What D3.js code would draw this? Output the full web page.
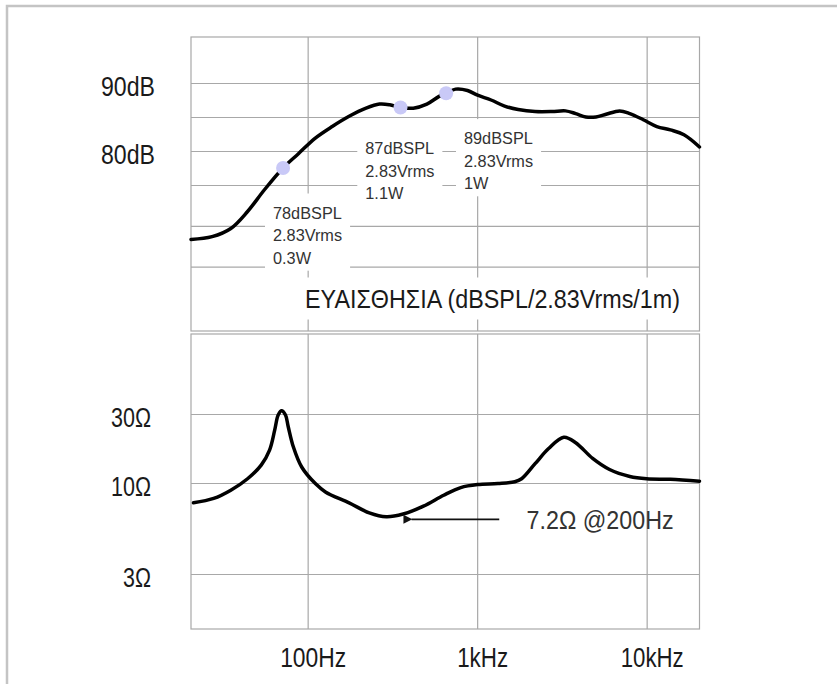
<!DOCTYPE html>
<html><head><meta charset="utf-8">
<script src="https://cdn.jsdelivr.net/npm/d3@7"></script>
<style>body{margin:0;background:#fff} svg{display:block}</style>
</head><body><svg id="c" width="837" height="684"></svg>
<script>
// ---- data ----
const splFreq = [20.5,27.3,35.2,44.2,55.6,71.6,88.2,111,139.6,175.6,221,265.5,304.8,353,420,505,593,656,746,877,1006,1208,1452,1746,2197,2765,3320,3813,4377,5025,5765,6925,7955,9550,11480,13800,16600,20500];
const splDB   = [67.0,67.4,68.6,71.1,74.3,77.5,79.6,81.9,83.6,85.1,86.3,86.9,86.8,86.4,86.3,86.9,88.0,88.5,89.1,88.9,88.2,87.5,86.6,86.1,85.8,85.8,85.9,85.5,85.0,85.0,85.4,85.9,85.5,84.6,83.6,83.1,82.4,80.6];
const markerFreq = [71.6, 353, 656];
const markerDB   = [77.5, 86.4, 88.5];
const markerText = [["78dBSPL","2.83Vrms","0.3W"],["87dBSPL","2.83Vrms","1.1W"],["89dBSPL","2.83Vrms","1W"]];
const zFreq = [21.2,27.9,35.2,44.2,53.2,59.6,63.9,67.0,70.2,74.0,76.8,82.3,92.2,111,127.3,175.6,231,291,366,482,635,800,1006,1326,1668,1829,2197,2640,3245,3814,4800,6040,7955,10000,13800,20500];
const zOhm  = [7.69,8.15,9.09,10.7,13.3,16.9,23.2,29.5,31.6,29.5,24.5,17.8,12.9,9.92,8.89,7.69,6.74,6.40,6.63,7.36,8.51,9.41,9.79,9.92,10.2,10.7,13.6,17.3,20.7,19.0,14.8,12.4,11.1,10.7,10.6,10.3];
const xTickValues = [100, 1000, 10000];
const xTickLabels = ["100Hz", "1kHz", "10kHz"];
const dbGrid = [90, 85, 80, 75, 69, 63];
const dbTickValues = [90, 80];
const dbTickLabels = ["90dB", "80dB"];
const zGrid = [30, 10, 3];
const zTickLabels = ["30Ω", "10Ω", "3Ω"];
const titleText = "ΕΥΑΙΣΘΗΣΙΑ (dBSPL/2.83Vrms/1m)";
const minText = "7.2Ω @200Hz";
const minFreq = [410, 1350];   // arrow from/to (frequency)

// ---- layout ----
const svg = d3.select("#c");
const L = 191, R = 699.5;
const T1 = 37, B1 = 331, T2 = 334, B2 = 629;
const FONT = "'Liberation Sans', Arial, sans-serif";
const x = d3.scaleLog().domain([20.5, 20500]).range([L, R]);
const yS = d3.scaleLinear().domain([90, 80]).range([83, 151]);
const yZ = d3.scaleLog().domain([3, 10, 30]).range([574, 483, 414]);

// outer frame
svg.append("path").attr("d", "M7,684 L7,6 L837,6").attr("fill","none")
  .attr("stroke","#c4c4c4").attr("stroke-width",2.5);

function grid(g){ g.select(".domain").remove(); g.selectAll("line").attr("stroke","#a8a8a8").attr("stroke-width",1.2); }

// panels
[[T1,B1],[T2,B2]].forEach(([t,b]) => {
  svg.append("g").attr("transform",`translate(0,${t})`)
    .call(d3.axisBottom(x).tickValues(xTickValues).tickSize(b-t).tickFormat(""))
    .call(grid);
});
svg.append("g").attr("transform",`translate(${L},0)`)
  .call(d3.axisLeft(yS).tickValues(dbGrid).tickSize(-(R-L)).tickFormat("")).call(grid);
svg.append("g").attr("transform",`translate(${L},0)`)
  .call(d3.axisLeft(yZ).tickValues(zGrid).tickSize(-(R-L)).tickFormat("")).call(grid);
[[T1,B1],[T2,B2]].forEach(([t,b]) => {
  svg.append("rect").attr("x",L).attr("y",t).attr("width",R-L).attr("height",b-t)
    .attr("fill","none").attr("stroke","#a8a8a8").attr("stroke-width",1.2);
});

// tick labels
function bigText(sel, fs){ sel.attr("font-family",FONT).attr("font-size",fs).attr("fill","#1a1a1a"); }
const ya = svg.append("g").attr("transform",`translate(${L},0)`)
  .call(d3.axisLeft(yS).tickValues(dbTickValues).tickSize(0).tickPadding(36).tickFormat((d,i)=>dbTickLabels[i]));
ya.select(".domain").remove();
ya.selectAll("text").call(bigText, 27).attr("dy","0.45em").attr("textLength",54).attr("lengthAdjust","spacingAndGlyphs");

const za = svg.append("g").attr("transform",`translate(${L},0)`)
  .call(d3.axisLeft(yZ).tickValues(zGrid).tickSize(0).tickPadding(40).tickFormat((d,i)=>zTickLabels[i]));
za.select(".domain").remove();
za.selectAll("text").call(bigText, 27).attr("dy","0.45em")
  .attr("textLength",(d,i)=> i===2 ? 28 : 40).attr("lengthAdjust","spacingAndGlyphs");

const xa = svg.append("g").attr("transform",`translate(0,${B2})`)
  .call(d3.axisBottom(x).tickValues(xTickValues).tickSize(0).tickPadding(18.5).tickFormat((d,i)=>xTickLabels[i]));
xa.select(".domain").remove();
xa.selectAll("text").call(bigText, 27).attr("dx", 5)
  .attr("textLength",(d,i)=>[66,51,63][i]).attr("lengthAdjust","spacingAndGlyphs");

// marker labels with white backgrounds
const labelPos = [[273, 218.5], [365.3, 154.1], [464, 144.1]];
markerText.forEach((lines, k) => {
  const g = svg.append("g");
  const bg = g.append("rect").attr("fill","#fff");
  const t = g.append("text").attr("font-family",FONT).attr("font-size",16.3).attr("fill","#333");
  lines.forEach((s, j) => t.append("tspan").attr("x", labelPos[k][0]).attr("y", labelPos[k][1] + j*22.6).text(s));
  const bb = t.node().getBBox();
  bg.attr("x", bb.x-8).attr("y", bb.y-10).attr("width", bb.width+16).attr("height", bb.height+14);
});

// title with background
{
  const g = svg.append("g");
  const bg = g.append("rect").attr("fill","#fff");
  const t = g.append("text").attr("x",305).attr("y",307.5).text(titleText)
    .call(bigText, 26.5).attr("textLength",375).attr("lengthAdjust","spacingAndGlyphs");
  const bb = t.node().getBBox();
  bg.attr("x", bb.x-6).attr("y", bb.y-6).attr("width", bb.width+12).attr("height", bb.height+12);
}

// curves
const lineS = d3.line().x((d,i)=>x(splFreq[i])).y((d,i)=>yS(splDB[i])).curve(d3.curveCatmullRom.alpha(0.5));
svg.append("path").attr("d", lineS(splDB)).attr("fill","none").attr("stroke","#000").attr("stroke-width",3.5)
  .attr("stroke-linejoin","round").attr("stroke-linecap","round");
svg.selectAll("circle.m").data(markerFreq).join("circle").attr("class","m")
  .attr("cx", d=>x(d)).attr("cy",(d,i)=>yS(markerDB[i])).attr("r",7).attr("fill","#c9c9f7");

const lineZ = d3.line().x((d,i)=>x(zFreq[i])).y((d,i)=>yZ(zOhm[i])).curve(d3.curveCatmullRom.alpha(0.5));
svg.append("path").attr("d", lineZ(zOhm)).attr("fill","none").attr("stroke","#000").attr("stroke-width",3.5)
  .attr("stroke-linejoin","round").attr("stroke-linecap","round");

// annotation arrow
svg.append("defs").append("marker").attr("id","ah").attr("viewBox","0 0 10 10").attr("refX",1).attr("refY",5)
  .attr("markerWidth",11).attr("markerHeight",9).attr("markerUnits","userSpaceOnUse").attr("orient","auto")
  .append("path").attr("d","M10,0 L0,5 L10,10 z").attr("fill","#111");
svg.append("line").attr("x1", x(minFreq[1])).attr("x2", x(minFreq[0])).attr("y1", 519.3).attr("y2", 519.3)
  .attr("stroke","#111").attr("stroke-width",1.8).attr("marker-end","url(#ah)");
svg.append("text").attr("x",526.6).attr("y",528.5).text(minText).call(bigText, 25)
  .attr("fill","#333").attr("textLength",147).attr("lengthAdjust","spacingAndGlyphs");
</script></body></html>
